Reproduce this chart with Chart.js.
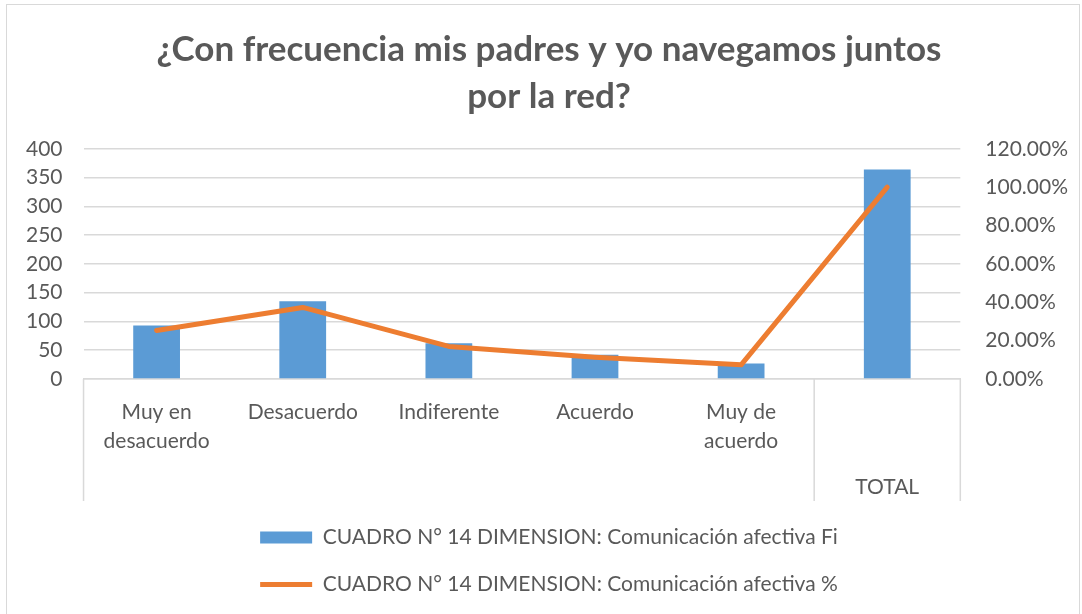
<!DOCTYPE html>
<html>
<head>
<meta charset="utf-8">
<script src="https://cdn.jsdelivr.net/npm/chart.js@4"></script>
<style>
  body { margin: 0; background: #fff; }
  #wrap { position: relative; width: 1082px; height: 614px; overflow: hidden; }
  #frame { position: absolute; left: 6px; top: 4px; width: 1072px; height: 660px; border: 1px solid #d9d9d9; }
  #c { position: absolute; left: 0; top: 0; }
</style>
</head>
<body>
<div id="wrap">
  <div id="frame"></div>
  <canvas id="c" width="1082" height="614"></canvas>
</div>
<script>
// datos
const categorias = [
  ['Muy en', 'desacuerdo'],
  ['Desacuerdo'],
  ['Indiferente'],
  ['Acuerdo'],
  ['Muy de', 'acuerdo'],
  ''
];
// segundo nivel del eje (agrupacion)
const grupos = ['', '', '', '', '', 'TOTAL'];
const frecuencia = [93, 135, 62, 42, 27, 364];
const porcentaje = [25.3, 37.3, 17.0, 11.4, 7.4, 100];

const nombreFi = 'CUADRO N° 14 DIMENSION: Comunicación afectiva Fi';
const nombrePct = 'CUADRO N° 14 DIMENSION: Comunicación afectiva %';

const gris = '#595959';
const fuente = 'Lato, "Open Sans", sans-serif';

// separadores verticales del eje de categorias (estilo Excel)
const separadores = {
  id: 'separadores',
  afterDraw(chart) {
    const x = chart.scales.x;
    const x2 = chart.scales.x2;
    const area = chart.chartArea;
    const ctx = chart.ctx;
    const medio = (x.getPixelForValue(4) + x.getPixelForValue(5)) / 2;
    ctx.save();
    ctx.strokeStyle = '#d9d9d9';
    ctx.lineWidth = 1.5;
    [area.left, medio, area.right].forEach(px => {
      ctx.beginPath();
      ctx.moveTo(px, area.bottom);
      ctx.lineTo(px, x2.bottom);
      ctx.stroke();
    });
    ctx.restore();
  }
};

const ctx = document.getElementById('c').getContext('2d');
new Chart(ctx, {
  data: {
    labels: categorias,
    datasets: [{
      type: 'line',
      label: nombrePct,
      data: porcentaje,
      yAxisID: 'y1',
      borderColor: '#ED7D31',
      backgroundColor: '#ED7D31',
      borderWidth: 5,
      borderCapStyle: 'round',
      borderJoinStyle: 'round',
      pointRadius: 0,
      pointStyle: 'line',
      order: 1
    }, {
      type: 'bar',
      label: nombreFi,
      data: frecuencia,
      yAxisID: 'y',
      backgroundColor: '#5B9BD5',
      borderWidth: 0,
      pointStyle: 'rect',
      categoryPercentage: 1,
      barPercentage: 0.32,
      order: 2
    }]
  },
  options: {
    responsive: false,
    animation: false,
    layout: { padding: { left: 5, right: -11, top: 26, bottom: 9 } },
    plugins: {
      title: {
        display: true,
        text: ['¿Con frecuencia mis padres y yo navegamos juntos', 'por la red?'],
        color: gris,
        font: { family: fuente, size: 35, weight: 'bold', lineHeight: 1.34 },
        padding: { top: 0, bottom: 29 }
      },
      legend: {
        position: 'bottom',
        reverse: true,
        labels: {
          color: gris,
          font: { family: fuente, size: 21 },
          usePointStyle: true,
          pointStyleWidth: 52,
          boxWidth: 52,
          boxHeight: 12,
          padding: 26
        }
      },
      tooltip: { enabled: false }
    },
    scales: {
      x: {
        grid: { display: false, drawTicks: false },
        border: { display: true, color: '#d9d9d9', width: 1.5 },
        ticks: {
          color: gris,
          padding: 18.5,
          maxRotation: 0,
          autoSkip: false,
          font: { family: fuente, size: 21, lineHeight: 1.381 }
        }
      },
      x2: {
        type: 'category',
        position: 'bottom',
        labels: grupos,
        offset: true,
        grid: { display: false, drawTicks: false },
        border: { display: false },
        ticks: {
          color: gris,
          padding: 1,
          maxRotation: 0,
          autoSkip: false,
          font: { family: fuente, size: 21, lineHeight: 1.19 }
        }
      },
      y: {
        position: 'left',
        min: 0,
        max: 400,
        ticks: { stepSize: 50, autoSkip: false, color: gris, padding: 21, font: { family: fuente, size: 21 } },
        grid: { color: '#d9d9d9', lineWidth: 1.5, drawTicks: false },
        border: { display: false }
      },
      y1: {
        position: 'right',
        min: 0,
        max: 120,
        ticks: {
          stepSize: 20,
          autoSkip: false,
          color: gris,
          padding: 25,
          font: { family: fuente, size: 21 },
          callback: (v) => v.toFixed(2) + '%'
        },
        grid: { drawOnChartArea: false, drawTicks: false },
        border: { display: false }
      }
    }
  },
  plugins: [separadores]
});
</script>
</body>
</html>
